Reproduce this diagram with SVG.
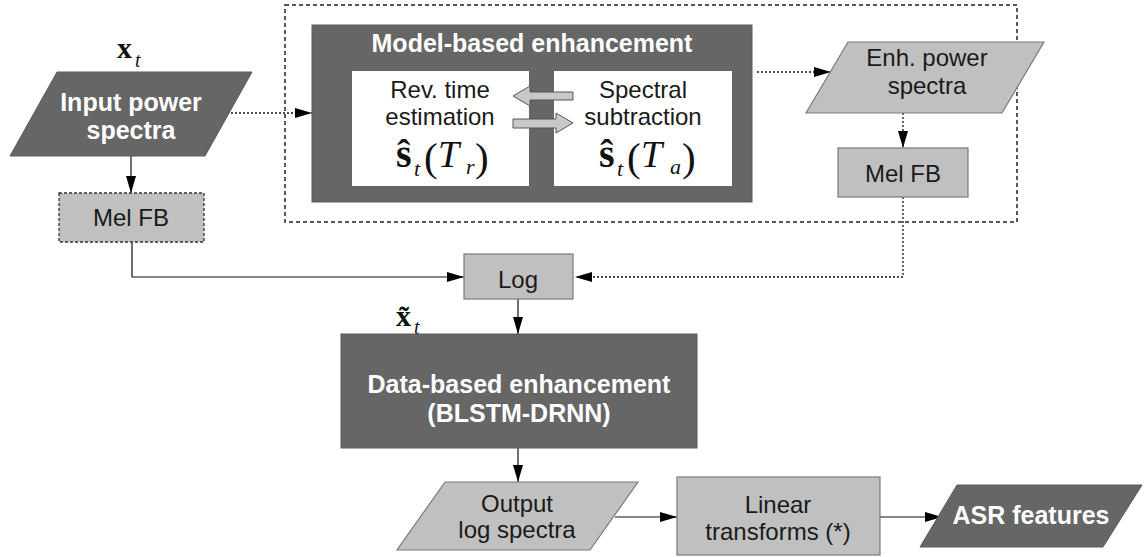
<svg xmlns="http://www.w3.org/2000/svg" width="1145" height="557" viewBox="0 0 1145 557">
<style>
.dark{fill:#666666;stroke:#5a5a5a;stroke-width:1}
.light{fill:#c0c0c0;stroke:#7a7a7a;stroke-width:1.2}
.white{fill:#ffffff;stroke:none}
.tw{font-family:"Liberation Sans",Arial,sans-serif;font-size:25px;font-weight:bold;fill:#ffffff;text-anchor:middle}
.tb{font-family:"Liberation Sans",Arial,sans-serif;font-size:24px;fill:#1a1a1a;text-anchor:middle}
.m{font-family:"Liberation Serif","DejaVu Serif",serif;fill:#111}
.solid{fill:none;stroke:#111;stroke-width:1.2}
.dot{fill:none;stroke:#111;stroke-width:1.3;stroke-dasharray:2 2}
.barrow{fill:#c8c8c8;stroke:#555;stroke-width:1}
</style>
<defs>
<marker id="ah" viewBox="0 0 17 10" refX="17" refY="5" markerWidth="17" markerHeight="10" markerUnits="userSpaceOnUse" orient="auto">
<path d="M0,0 L17,5 L0,10 Z" fill="#000"/>
</marker>
</defs>

<g id="outer-box">
<rect x="285" y="5" width="732" height="217" fill="none" stroke="#222" stroke-width="1.5" stroke-dasharray="4 3"/>
</g>

<g id="connectors">
<line class="dot" x1="227" y1="113" x2="312" y2="113" marker-end="url(#ah)"/>
<line class="dot" x1="757" y1="72" x2="831" y2="72" marker-end="url(#ah)"/>
<line class="dot" x1="903" y1="113" x2="903" y2="148" marker-end="url(#ah)"/>
<polyline class="dot" points="903,197 903,277 575,277" marker-end="url(#ah)"/>
<line class="solid" x1="131" y1="156" x2="131" y2="193" marker-end="url(#ah)"/>
<polyline class="solid" points="132,242 132,277 464,277" marker-end="url(#ah)"/>
<line class="solid" x1="518" y1="299" x2="518" y2="334" marker-end="url(#ah)"/>
<line class="solid" x1="518" y1="448" x2="518" y2="482" marker-end="url(#ah)"/>
<line class="solid" x1="615" y1="517" x2="677" y2="517" marker-end="url(#ah)"/>
<line class="solid" x1="880" y1="517" x2="942" y2="517" marker-end="url(#ah)"/>
</g>

<g id="input-power-spectra">
<polygon class="dark" points="57,72 252,72 205,156 10,156"/>
<text class="tw" x="131" y="111">Input power</text>
<text class="tw" x="131" y="139">spectra</text>
<text class="m" x="117" y="58" font-size="30" font-weight="bold">x</text>
<text class="m" x="135" y="67" font-size="20" font-style="italic">t</text>
</g>

<g id="mel-fb-left">
<rect x="59" y="193" width="145" height="49" fill="#c0c0c0" stroke="#333" stroke-width="1.3" stroke-dasharray="3 2"/>
<text class="tb" x="131" y="226">Mel FB</text>
</g>

<g id="model-based">
<rect class="dark" x="312" y="25" width="440" height="177"/>
<text class="tw" x="532" y="52">Model-based enhancement</text>
<rect class="white" x="352" y="71" width="177" height="115"/>
<rect class="white" x="554" y="71" width="178" height="115"/>
<text class="tb" x="440" y="98">Rev. time</text>
<text class="tb" x="440" y="125">estimation</text>
<text class="tb" x="643" y="98">Spectral</text>
<text class="tb" x="643" y="125">subtraction</text>
<g class="m">
<text x="396" y="167" font-size="40" font-weight="bold">ŝ</text>
<text x="414" y="176" font-size="22" font-style="italic">t</text>
<text x="424" y="171" font-size="41">(</text>
<text x="438" y="167" font-size="38" font-style="italic">T</text>
<text x="466" y="174" font-size="22" font-style="italic">r</text>
<text x="475" y="171" font-size="41">)</text>
<text x="599" y="167" font-size="40" font-weight="bold">ŝ</text>
<text x="617" y="176" font-size="22" font-style="italic">t</text>
<text x="627" y="171" font-size="41">(</text>
<text x="641" y="167" font-size="38" font-style="italic">T</text>
<text x="670" y="174" font-size="22" font-style="italic">a</text>
<text x="682" y="171" font-size="41">)</text>
</g>
<polygon class="barrow" points="513,96 530,86 530,92 573,92 573,100 530,100 530,106"/>
<polygon class="barrow" points="573,123 556,113 556,119 513,119 513,128 556,128 556,133"/>
</g>

<g id="enh-power-spectra">
<polygon class="light" points="848,42 1044,42 1002,113 806,113"/>
<text class="tb" x="927" y="66">Enh. power</text>
<text class="tb" x="927" y="94">spectra</text>
</g>

<g id="mel-fb-right">
<rect class="light" x="838" y="148" width="130" height="49"/>
<text class="tb" x="903" y="182">Mel FB</text>
</g>

<g id="log">
<rect class="light" x="464" y="254" width="109" height="45"/>
<text class="tb" x="518" y="288">Log</text>
</g>

<g id="xt-tilde">
<text class="m" x="396" y="326" font-size="30" font-weight="bold">x̃</text>
<text class="m" x="414" y="334" font-size="20" font-style="italic">t</text>
</g>

<g id="data-based">
<rect class="dark" x="341" y="334" width="356" height="114"/>
<text class="tw" x="519" y="393">Data-based enhancement</text>
<text class="tw" x="519" y="422">(BLSTM-DRNN)</text>
</g>

<g id="output-log-spectra">
<polygon class="light" points="445,482 638,482 590,550 397,550"/>
<text class="tb" x="517" y="512">Output</text>
<text class="tb" x="517" y="538">log spectra</text>
</g>

<g id="linear-transforms">
<rect class="light" x="677" y="477" width="203" height="78"/>
<text class="tb" x="778" y="513">Linear</text>
<text class="tb" x="778" y="540">transforms (*)</text>
</g>

<g id="asr-features">
<polygon class="dark" points="957,485 1142,485 1103,547 920,547"/>
<text class="tw" x="1031" y="524">ASR features</text>
</g>
</svg>
